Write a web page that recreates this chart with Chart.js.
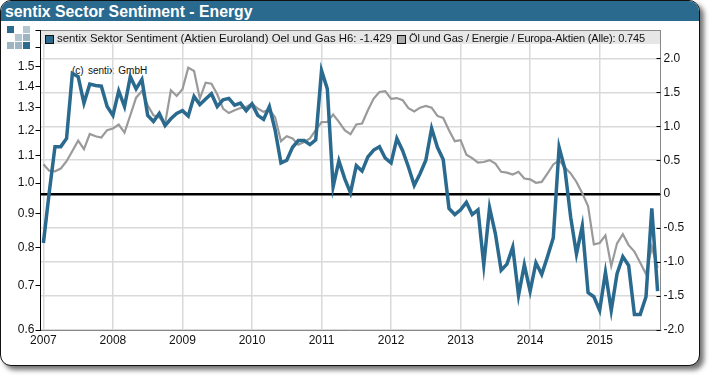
<!DOCTYPE html>
<html>
<head>
<meta charset="utf-8">
<title>sentix Sector Sentiment - Energy</title>
<script src="https://cdn.jsdelivr.net/npm/chart.js@4"></script>
<style>
html, body { margin: 0; padding: 0; background: #fff; width: 710px; height: 376px; overflow: hidden; font-family: "Liberation Sans", Arial, sans-serif; }
#card { position: absolute; left: 0; top: 0; width: 698px; height: 364px; border: 1.5px solid #111; border-radius: 11px; background: #fff; box-shadow: 4px 4px 5px rgba(0,0,0,.55); overflow: hidden; }
#title { position: absolute; left: 0; top: 0; width: 100%; height: 20px; background: #2a6a8f; color: #fff; font: bold 15.8px "Liberation Sans", Arial, sans-serif; line-height: 21px; padding-left: 4px; }
#legend { position: absolute; left: 41px; top: 30px; width: 619px; height: 13px; background: #e6e6e6; border-top: 1px solid #888; line-height: 14px; color: #111; white-space: nowrap; }
#legend span { position: absolute; top: 0; }
#legend i { position: absolute; top: 4px; width: 7px; height: 7px; border: 1px solid #111; }
#copy { position: absolute; left: 72px; top: 64px; font-size: 10px; line-height: 13px; color: #111; word-spacing: 1.5px; }
.sq { position: absolute; width: 7px; height: 7px; }
canvas { position: absolute; left: 0; top: 0; }
</style>
</head>
<body>
<div id="card"><div id="title">sentix Sector Sentiment - Energy</div></div>
<div class="sq" style="left:7px;top:26px;background:#2a6a8f"></div>
<div class="sq" style="left:23px;top:26px;background:#b4c6d0"></div>
<div class="sq" style="left:15px;top:34px;background:#b4c6d0"></div>
<div class="sq" style="left:23px;top:34px;background:#9db4c2"></div>
<div class="sq" style="left:7px;top:42px;background:#9db4c2"></div>
<div class="sq" style="left:15px;top:42px;background:#9db4c2"></div>
<div class="sq" style="left:23px;top:42px;background:#2a6a8f"></div>
<div id="copy">(c) sentix GmbH</div>
<canvas id="myChart" width="710" height="376"></canvas>
<div id="legend">
	<i style="left:4px;background:#2a6a8f"></i><span id="blueName" style="left:16px;font-size:11.4px"></span>
	<i style="left:356px;background:#aaa"></i><span id="grayName" style="left:368px;font-size:11px;letter-spacing:-0.16px"></span>
</div>
<script>
const startYear = 2007;
const monthCount = 107;

const blueName = 'sentix Sektor Sentiment (Aktien Euroland) Oel und Gas H6: -1.429';
const grayName = 'Öl und Gas / Energie / Europa-Aktien (Alle): 0.745';

// right axis
const blueValues = [
	-0.72, 0.02, 0.70, 0.70, 0.82, 1.78, 1.73, 1.34, 1.62, 1.60, 1.59, 1.29,
	1.16, 1.52, 1.29, 1.73, 1.55, 1.69, 1.16, 1.07, 1.19, 1.01, 1.11, 1.19,
	1.23, 1.15, 1.44, 1.32, 1.40, 1.48, 1.29, 1.39, 1.41, 1.31, 1.34, 1.23,
	1.33, 1.16, 1.10, 1.29, 0.94, 0.46, 0.50, 0.69, 0.79, 0.79, 0.73, 0.80,
	1.82, 1.55, 0.11, 0.49, 0.23, 0.02, 0.42, 0.34, 0.55, 0.65, 0.70, 0.53,
	0.46, 0.82, 0.64, 0.40, 0.13, 0.30, 0.50, 0.97, 0.69, 0.51, -0.21, -0.30,
	-0.23, -0.12, -0.30, -0.23, -1.04, -0.20, -0.58, -1.12, -1.03, -0.78, -1.49, -1.04,
	-1.43, -1.01, -1.18, -0.92, -0.64, 0.69, 0.37, -0.34, -0.88, -0.47, -1.45, -1.51,
	-1.71, -1.15, -1.71, -1.17, -0.92, -1.05, -1.77, -1.77, -1.51, -0.21, -1.429
];

// left axis (log)
const grayValues = [
	1.068, 1.044, 1.042, 1.052, 1.079, 1.118, 1.159, 1.125, 1.186, 1.177, 1.172, 1.202,
	1.209, 1.226, 1.192, 1.266, 1.346, 1.377, 1.311, 1.266, 1.256, 1.230, 1.381, 1.354,
	1.386, 1.494, 1.477, 1.342, 1.418, 1.413, 1.362, 1.296, 1.276, 1.288, 1.298, 1.303,
	1.318, 1.296, 1.281, 1.291, 1.256, 1.157, 1.177, 1.168, 1.143, 1.154, 1.168, 1.202,
	1.236, 1.237, 1.269, 1.237, 1.202, 1.185, 1.226, 1.230, 1.288, 1.342, 1.373, 1.377,
	1.340, 1.344, 1.334, 1.298, 1.283, 1.300, 1.308, 1.300, 1.263, 1.254, 1.202, 1.157,
	1.161, 1.104, 1.091, 1.074, 1.076, 1.083, 1.070, 1.040, 1.037, 1.030, 1.040, 1.016,
	1.013, 1.001, 1.004, 1.034, 1.067, 1.083, 1.056, 1.034, 1.004, 0.965, 0.923, 0.808,
	0.812, 0.834, 0.749, 0.811, 0.837, 0.806, 0.788, 0.758, 0.729, 0.801, 0.745
];

const leftTicks = [0.6, 0.7, 0.8, 0.9, 1.0, 1.1, 1.2, 1.3, 1.4, 1.5, 1.6, 1.7];
const leftLabelled = [0.6, 0.7, 0.8, 0.9, 1.0, 1.1, 1.2, 1.3, 1.4, 1.5];
const rightTicks = [-2, -1.5, -1, -0.5, 0, 0.5, 1, 1.5, 2];

document.getElementById('blueName').textContent = blueName;
document.getElementById('grayName').textContent = grayName;

var months = [];
for (var i = 0; i < monthCount; i++) {
	months.push(startYear + Math.floor(i / 12) + '-' + (i % 12 + 1));
}

// short marks inside the right axis
const innerTicks = {
	id: 'innerTicks',
	afterDraw: function(chart) {
		var s = chart.scales.yRight, c = chart.ctx;
		c.save();
		c.strokeStyle = '#000';
		c.lineWidth = 1;
		s.ticks.forEach(function(t) {
			var y = Math.round(s.getPixelForValue(t.value)) + 0.5;
			c.beginPath();
			c.moveTo(s.left - 4, y);
			c.lineTo(s.left, y);
			c.stroke();
		});
		c.restore();
	}
};

new Chart(document.getElementById('myChart').getContext('2d'), {
	type: 'line',
	plugins: [innerTicks],
	data: {
		labels: months,
		datasets: [
			{ data: blueValues, yAxisID: 'yRight', borderColor: '#2a6a8f', borderWidth: 3.5, pointRadius: 0, tension: 0 },
			{ data: grayValues, yAxisID: 'yLeft', borderColor: '#9a9a9a', borderWidth: 2.2, pointRadius: 0, tension: 0 }
		]
	},
	options: {
		responsive: false,
		animation: false,
		layout: { padding: { top: 30.5, left: 0, right: 0, bottom: 0 } },
		plugins: { legend: { display: false }, title: { display: false }, tooltip: { enabled: false } },
		scales: {
			x: {
				type: 'category',
				offset: true,
				afterFit: function(s) { s.height = 46; },
				border: { color: '#888', width: 1 },
				grid: {
					offset: false,
					drawTicks: false,
					lineWidth: 1.5,
					color: function(ctx) {
						return ctx.index % 12 == 0 ? '#d9d9d9' : 'rgba(0,0,0,0)';
					}
				},
				ticks: {
					autoSkip: false,
					maxRotation: 0,
					padding: 3,
					color: '#111',
					font: { family: '"Liberation Sans", Arial, sans-serif', size: 12 },
					callback: function(v, idx) {
						return idx % 12 == 0 ? String(startYear + idx / 12) : '';
					}
				}
			},
			yLeft: {
				type: 'logarithmic',
				position: 'left',
				min: 0.6,
				max: 1.7,
				afterFit: function(s) { s.width = 40.5; },
				afterBuildTicks: function(s) { s.ticks = leftTicks.map(function(v) { return { value: v }; }); },
				border: { color: '#000', width: 1 },
				grid: { drawOnChartArea: false, tickLength: 5, tickColor: '#000' },
				ticks: {
					padding: 1,
					color: '#111',
					font: { family: '"Liberation Sans", Arial, sans-serif', size: 12 },
					callback: function(v) {
						return leftLabelled.indexOf(v) >= 0 ? v.toFixed(1) : '';
					}
				}
			},
			yRight: {
				type: 'linear',
				position: 'right',
				min: -2,
				max: 2.41,
				afterFit: function(s) { s.width = 49.5; },
				afterBuildTicks: function(s) { s.ticks = rightTicks.map(function(v) { return { value: v }; }); },
				border: { color: '#888', width: 1 },
				grid: {
					drawTicks: false,
					color: function(ctx) { return ctx.tick && ctx.tick.value === 0 ? '#000' : '#d9d9d9'; },
					lineWidth: function(ctx) { return ctx.tick && ctx.tick.value === 0 ? 2.5 : 1.5; }
				},
				ticks: {
					padding: 3,
					color: '#111',
					font: { family: '"Liberation Sans", Arial, sans-serif', size: 12 },
					callback: function(v) {
						return v === 0 ? '0' : v.toFixed(1);
					}
				}
			}
		}
	}
});
</script>
</body>
</html>
